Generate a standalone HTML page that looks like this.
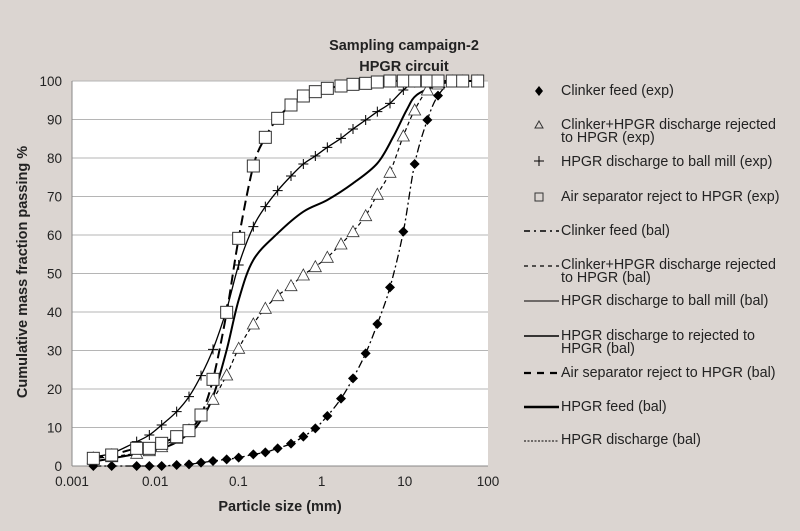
<!DOCTYPE html>
<html><head><meta charset="utf-8"><style>
body{margin:0;background:#dbd5d1;}
svg{display:block;font-family:"Liberation Sans",sans-serif;}
</style></head><body>
<svg id="s" width="800" height="531" xmlns="http://www.w3.org/2000/svg">
<rect width="800" height="531" fill="#dbd5d1"/>
<rect x="72" y="81" width="416" height="385" fill="#fff"/>
<g id="grid" stroke="#b5b5b5" stroke-width="1"></g>
<line x1="72" y1="81" x2="72" y2="466" stroke="#888"/>
<line x1="72" y1="466" x2="488" y2="466" stroke="#888"/>
<text x="404" y="50" text-anchor="middle" font-size="14.5" font-weight="bold" fill="#222">Sampling campaign-2</text>
<text x="404" y="71" text-anchor="middle" font-size="14.5" font-weight="bold" fill="#222">HPGR circuit</text>
<text x="280" y="511" text-anchor="middle" font-size="14.5" font-weight="bold" fill="#222">Particle size (mm)</text>
<text transform="translate(27,272) rotate(-90)" text-anchor="middle" font-size="14.5" font-weight="bold" fill="#222">Cumulative mass fraction passing %</text>
<g id="ticks" font-size="13.5" fill="#222"></g>
<g id="series"></g>
<g id="legend" font-size="14.3" fill="#222"></g>
</svg>
<script>
const NS="http://www.w3.org/2000/svg";
function el(p,t,a,txt){const e=document.createElementNS(NS,t);for(const k in a)e.setAttribute(k,a[k]);if(txt!==undefined)e.textContent=txt;p.appendChild(e);return e;}
const g=document.getElementById('grid'),tk=document.getElementById('ticks'),S=document.getElementById('series'),L=document.getElementById('legend');
for(let i=0;i<=10;i++){const y=466-38.5*i;if(i>0)el(g,'line',{x1:72,x2:488,y1:y,y2:y});el(tk,'text',{x:62,y:y+5,'text-anchor':'end'},String(i*10));}
['0.001','0.01','0.1','1','10','100'].forEach((t,i)=>el(tk,'text',{x:72+83.2*i,y:486,'text-anchor':'middle'},t));
const X=[160,215,290,328,365,410,447,483,519,560,596,640,676,713,753,790,826,862,903,939,977,1012,1050,1090,1124,1162,1194,1237,1268,1313];
const D={
dia:[1218,1218,1218,1218,1218,1215,1213,1208,1203,1198,1193,1183,1177,1165,1151,1130,1105,1068,1016,955,880,792,682,515,312,180,107,63,63,63],
tri:[1195,1190,1180,1172,1160,1135,1110,1065,1018,945,865,792,745,707,677,645,620,592,552,515,467,403,337,228,150,90,72,63,63,63],
plus:[1190,1180,1145,1125,1095,1055,1010,947,868,748,615,500,440,392,348,312,288,262,235,207,180,155,130,90,68,63,63,63,63,63],
sq:[1195,1185,1165,1165,1150,1130,1112,1065,958,757,535,318,232,175,135,108,95,85,78,73,70,66,63,63,63,63,63,63,63,63]};
function P(zx,zy){return [zx/3+40,zy/3+60];}
function path(pts){let d='M'+pts[0].join(',');for(let i=0;i<pts.length-1;i++){const p0=pts[Math.max(0,i-1)],p1=pts[i],p2=pts[i+1],p3=pts[Math.min(pts.length-1,i+2)];
const c1=[p1[0]+(p2[0]-p0[0])/6,p1[1]+(p2[1]-p0[1])/6],c2=[p2[0]-(p3[0]-p1[0])/6,p2[1]-(p3[1]-p1[1])/6];d+='C'+c1.join(',')+' '+c2.join(',')+' '+p2.join(',');}return d;}
function line(ys,st,xs){const pts=(xs||X).map((x,i)=>P(x,ys[i]));el(S,'path',Object.assign({d:path(pts),fill:'none',stroke:'#000'},st));}
line(D.dia,{'stroke-width':1.3,'stroke-dasharray':'8 3 2 3'});
line(D.tri,{'stroke-width':1.2,'stroke-dasharray':'4 3'});
line(D.plus,{'stroke-width':1.3});
line(D.sq,{'stroke-width':2,'stroke-dasharray':'10 5'});
line([1205,1165,1120,1080,1010,870,720,600,520,455,420,370,310,230,150,105,75,63],{'stroke-width':2},[160,365,447,483,519,560,596,640,713,790,862,939,1012,1060,1100,1130,1194,1237]);
X.forEach((x,i)=>{let [a,b]=P(x,D.dia[i]);el(S,'path',{d:`M${a},${b-5}L${a+5},${b}L${a},${b+5}L${a-5},${b}Z`,fill:'#000'});
[a,b]=P(x,D.tri[i]);el(S,'path',{d:`M${a},${b-6}L${a+6},${b+5}L${a-6},${b+5}Z`,fill:'#fff',stroke:'#333','stroke-width':0.8});
[a,b]=P(x,D.plus[i]);el(S,'path',{d:`M${a-5},${b}H${a+5}M${a},${b-5}V${b+5}`,stroke:'#000','stroke-width':1});
[a,b]=P(x,D.sq[i]);el(S,'rect',{x:a-6,y:b-6,width:12,height:12,fill:'#fff',stroke:'#333','stroke-width':1});});
const lg=[[91,['Clinker feed (exp)']],[125,['Clinker+HPGR discharge rejected','to HPGR (exp)']],[162,['HPGR discharge to ball mill (exp)']],[197,['Air separator reject to HPGR (exp)']],[231,['Clinker feed (bal)']],[265,['Clinker+HPGR discharge rejected','to HPGR (bal)']],[301,['HPGR discharge to ball mill (bal)']],[336,['HPGR discharge to rejected to','HPGR (bal)']],[373,['Air separator reject to HPGR (bal)']],[407,['HPGR feed (bal)']],[440,['HPGR discharge (bal)']]];
lg.forEach(([y,t])=>{el(L,'text',{x:561,y:y+4},t[0]);if(t[1])el(L,'text',{x:561,y:y+17},t[1]);});
el(L,'path',{d:'M539,86L543,91L539,96L535,91Z',fill:'#000'});
el(L,'path',{d:'M539,121L543,128L535,128Z',fill:'none',stroke:'#333'});
el(L,'path',{d:'M534,161H544M539,156V166',stroke:'#000'});
el(L,'rect',{x:535,y:193,width:8,height:8,fill:'none',stroke:'#333'});
const ls=[[231,{'stroke-dasharray':'6 4 2 4','stroke-width':1.5}],[266,{'stroke-dasharray':'4 4','stroke-width':1.3}],[301,{'stroke-width':1}],[336,{'stroke-width':1.5}],[373,{'stroke-dasharray':'7 6','stroke-width':2.2}],[407,{'stroke-width':2.5}],[441,{'stroke-dasharray':'2 1.5','stroke-width':1}]];
ls.forEach(([y,st])=>el(L,'line',Object.assign({x1:524,x2:559,y1:y,y2:y,stroke:'#000'},st)));
</script>
</body></html>
